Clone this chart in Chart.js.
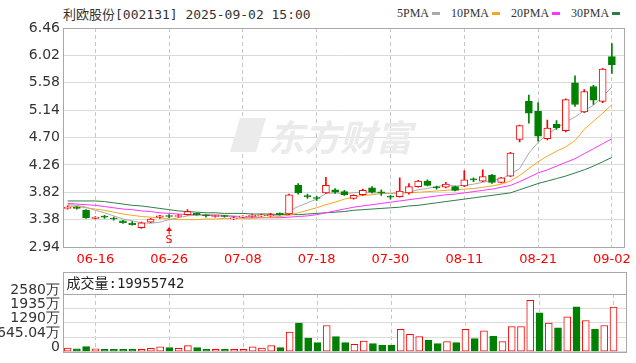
<!DOCTYPE html>
<html>
<head>
<meta charset="utf-8">
<script src="https://cdn.jsdelivr.net/npm/chart.js@4.4.0/dist/chart.umd.min.js"></script>
<style>
  body { margin: 0; background: #fff; width: 636px; height: 363px; overflow: hidden; position: relative; }
  canvas { position: absolute; left: 0; }
  #kline { top: 0; }
  #vol { top: 263px; }
  #title { position: absolute; left: 63px; top: 4px; font: 13px "DejaVu Sans Mono", "Noto Sans CJK SC", monospace; color: #333; white-space: nowrap; }
  #legend { position: absolute; left: 397px; top: 6px; font: 12px "Liberation Serif", serif; color: #333; display: flex; align-items: center; white-space: nowrap; }
  #legend span.sw { display: inline-block; width: 8px; height: 3px; margin: 0 11px 0 3px; }
</style>
</head>
<body>
<div id="title">利欧股份[002131] 2025-09-02 15:00</div>
<div id="legend"></div>
<canvas id="kline" width="636" height="270"></canvas>
<canvas id="vol" width="636" height="100"></canvas>
<script>
// 交易日
const dates = ['06-11','06-12','06-13','06-16','06-17','06-18','06-19','06-20','06-23','06-24',
  '06-25','06-26','06-27','06-30','07-01','07-02','07-03','07-04','07-07','07-08',
  '07-09','07-10','07-11','07-14','07-15','07-16','07-17','07-18','07-21','07-22',
  '07-23','07-24','07-25','07-28','07-29','07-30','07-31','08-01','08-04','08-05',
  '08-06','08-07','08-08','08-11','08-12','08-13','08-14','08-15','08-18','08-19',
  '08-20','08-21','08-22','08-25','08-26','08-27','08-28','08-29','09-01','09-02'];
const labelDays = ['06-16','06-26','07-08','07-18','07-30','08-11','08-21','09-02'];

// K线 开高低收
const opens = [3.56,3.58,3.53,3.40,3.43,3.40,3.36,3.32,3.25,3.34,
  3.42,3.44,3.43,3.46,3.48,3.45,3.43,3.44,3.39,3.42,
  3.43,3.44,3.44,3.48,3.47,3.93,3.76,3.73,3.81,3.86,
  3.83,3.72,3.78,3.89,3.82,3.75,3.75,3.81,3.91,4.00,
  3.90,3.90,3.91,3.92,4.03,4.00,4.09,3.98,4.08,4.67,
  5.28,5.12,4.68,4.91,4.81,5.58,5.11,5.52,5.28,6.00];
const highs = [3.60,3.59,3.54,3.43,3.45,3.42,3.37,3.35,3.34,3.40,
  3.45,3.46,3.46,3.54,3.49,3.46,3.45,3.45,3.43,3.44,
  3.47,3.47,3.48,3.49,3.79,3.96,3.79,3.76,4.06,3.88,
  3.85,3.78,3.87,3.91,3.86,3.77,4.05,3.96,4.01,4.02,
  3.92,3.98,3.92,4.17,4.05,4.18,4.11,4.06,4.46,4.90,
  5.38,5.26,4.98,4.97,5.32,5.69,5.47,5.54,5.81,6.21];
const lows = [3.55,3.55,3.40,3.39,3.40,3.37,3.32,3.29,3.24,3.33,
  3.40,3.41,3.42,3.45,3.45,3.42,3.42,3.42,3.38,3.41,
  3.42,3.43,3.43,3.45,3.46,3.79,3.72,3.69,3.80,3.80,
  3.77,3.71,3.77,3.81,3.77,3.71,3.74,3.79,3.90,3.92,
  3.87,3.89,3.84,3.91,3.99,3.99,3.96,3.97,4.07,4.63,
  4.93,4.64,4.66,4.83,4.79,5.20,5.10,5.23,5.26,5.73];
const closes = [3.58,3.56,3.41,3.42,3.42,3.39,3.33,3.30,3.33,3.39,
  3.44,3.43,3.44,3.51,3.46,3.44,3.44,3.43,3.41,3.43,
  3.45,3.45,3.46,3.46,3.78,3.81,3.75,3.72,3.93,3.82,
  3.78,3.77,3.85,3.82,3.81,3.74,3.84,3.91,4.00,3.93,
  3.89,3.95,3.85,4.02,4.02,4.07,3.98,4.05,4.45,4.89,
  5.09,4.72,4.85,4.86,5.31,5.23,5.44,5.30,5.80,5.87];

// 均线
const ma5 = [3.62,3.61,3.58,3.53,3.49,3.44,3.39,3.36,3.33,3.32,
  3.34,3.38,3.41,3.44,3.45,3.46,3.46,3.45,3.44,3.43,
  3.43,3.44,3.45,3.45,3.52,3.59,3.65,3.71,3.80,3.81,
  3.80,3.81,3.83,3.81,3.81,3.80,3.81,3.82,3.86,3.88,
  3.91,3.94,3.92,3.93,3.95,3.98,4.01,4.03,4.11,4.20,
  4.45,4.62,4.75,4.85,4.95,5.03,5.13,5.22,5.36,5.51];
const ma10 = [3.60,3.59,3.57,3.55,3.53,3.50,3.47,3.45,3.43,3.42,
  3.41,3.39,3.38,3.38,3.38,3.39,3.39,3.40,3.40,3.40,
  3.40,3.41,3.42,3.43,3.45,3.49,3.53,3.57,3.62,3.66,
  3.71,3.74,3.77,3.78,3.80,3.80,3.81,3.81,3.82,3.83,
  3.84,3.85,3.86,3.87,3.88,3.90,3.92,3.95,4.00,4.09,
  4.20,4.31,4.40,4.48,4.55,4.65,4.83,4.96,5.09,5.23];
const ma20 = [3.64,3.63,3.62,3.61,3.59,3.57,3.55,3.54,3.52,3.51,
  3.49,3.48,3.47,3.46,3.46,3.45,3.44,3.44,3.43,3.42,
  3.42,3.41,3.41,3.41,3.42,3.43,3.44,3.46,3.49,3.52,
  3.55,3.58,3.60,3.62,3.64,3.66,3.68,3.70,3.72,3.74,
  3.76,3.78,3.79,3.81,3.83,3.85,3.87,3.90,3.93,3.99,
  4.06,4.13,4.18,4.24,4.30,4.36,4.44,4.52,4.60,4.68];
const ma30 = [3.68,3.68,3.68,3.68,3.67,3.65,3.63,3.61,3.60,3.58,
  3.56,3.54,3.52,3.51,3.50,3.49,3.49,3.48,3.48,3.48,
  3.47,3.47,3.47,3.46,3.46,3.46,3.47,3.48,3.49,3.50,
  3.51,3.53,3.54,3.55,3.56,3.57,3.58,3.60,3.61,3.63,
  3.65,3.67,3.69,3.71,3.73,3.75,3.77,3.79,3.81,3.86,
  3.91,3.96,4.00,4.04,4.08,4.13,4.18,4.24,4.31,4.38];
const maNames = ['5PMA', '10PMA', '20PMA', '30PMA'];
const maColors = ['#aaaaaa', '#f5a623', '#ff33ff', '#2e7d46'];

// 成交量 (万), 1 = 涨
const volumes = [160,120,222,120,100,100,100,100,100,150,
  210,180,150,270,180,100,100,100,100,100,
  210,160,270,180,875,1275,610,400,1170,668,
  400,325,475,356,297,297,993,770,668,503,
  356,445,400,993,578,935,680,445,1125,1125,
  2300,1735,1277,1068,1557,2000,1393,1010,1170,1995.57];
const volUp = [1,0,0,1,0,0,0,0,1,1, 1,0,1,1,0,0,1,0,1,1,
  1,1,1,0,1,0,0,0,1,0, 0,1,1,0,0,0,1,1,1,0,
  0,1,0,1,0,1,0,1,1,1, 1,0,1,0,1,0,1,0,1,1];
const lastVolume = '19955742';

// 刻度
const priceTicks = [2.94, 3.38, 3.82, 4.26, 4.70, 5.14, 5.58, 6.02, 6.46];
const volTicks = [0, 645.04, 1290.08, 1935.12, 2580.16];
const volTickLabels = ['0', '645.04万', '1290万', '1935万', '2580万'];

const RED = '#ff0000', GREEN = '#008000';
const xTickIdx = labelDays.map(d => dates.indexOf(d));

// 图例
const legend = document.getElementById('legend');
maNames.forEach((n, k) => {
  legend.insertAdjacentHTML('beforeend', `<span>${n}</span><span class="sw" style="background:${maColors[k]}"></span>`);
});

// 外框
const framePlugin = {
  id: 'frame',
  afterDraw(chart) {
    const a = chart.chartArea, ctx = chart.ctx;
    ctx.save();
    ctx.strokeStyle = '#a8a8a8';
    ctx.lineWidth = 1;
    ctx.strokeRect(Math.round(a.left) + 0.5, Math.round(a.top) + 0.5, Math.round(a.right - a.left), Math.round(a.bottom - a.top));
    ctx.restore();
  }
};

// 水印
const watermarkPlugin = {
  id: 'watermark',
  beforeDatasetsDraw(chart) {
    const ctx = chart.ctx;
    ctx.save();
    ctx.fillStyle = '#ebebeb';
    ctx.font = 'italic bold 36px "Noto Sans CJK SC"';
    ctx.textBaseline = 'alphabetic';
    ctx.fillText('东方财富', 268, 151);
    ctx.beginPath();
    ctx.moveTo(240, 118); ctx.lineTo(266, 118); ctx.lineTo(256, 152); ctx.lineTo(230, 152);
    ctx.closePath();
    ctx.fill();
    ctx.restore();
  }
};

// S 标记
const signalPlugin = {
  id: 'signal',
  afterDatasetsDraw(chart) {
    const ctx = chart.ctx;
    const x = chart.scales.x.getPixelForValue(dates.indexOf('06-26'));
    ctx.save();
    ctx.fillStyle = RED;
    ctx.beginPath();
    ctx.moveTo(x, 227); ctx.lineTo(x + 3, 231); ctx.lineTo(x - 3, 231);
    ctx.closePath();
    ctx.fill();
    ctx.fillRect(x - 0.5, 231, 1, 3);
    ctx.font = '11px "DejaVu Sans"';
    ctx.textAlign = 'center';
    ctx.textBaseline = 'middle';
    ctx.fillText('S', x, 240);
    ctx.restore();
  }
};

const candleUp = closes.map((c, i) => c >= opens[i]);

new Chart(document.getElementById('kline'), {
  type: 'bar',
  data: {
    datasets: [
      {
        type: 'bar', order: 1, grouped: false,
        data: dates.map((d, i) => ({ x: i, y: [lows[i], highs[i]] })),
        backgroundColor: candleUp.map(u => u ? RED : GREEN),
        barThickness: 1, borderWidth: 0
      },
      {
        type: 'bar', order: 0, grouped: false,
        data: dates.map((d, i) => ({ x: i, y: [opens[i], closes[i]] })),
        backgroundColor: candleUp.map(u => u ? '#ffffff' : GREEN),
        borderColor: candleUp.map(u => u ? RED : GREEN),
        borderWidth: 1, borderSkipped: false, barThickness: 7, minBarLength: 1
      },
      ...[ma5, ma10, ma20, ma30].map((arr, k) => ({
        type: 'line', order: 2 + k,
        data: arr.map((v, i) => ({ x: i, y: v })),
        borderColor: maColors[k], borderWidth: 1, pointRadius: 0, tension: 0, fill: false
      }))
    ]
  },
  options: {
    responsive: false, animation: false, devicePixelRatio: 1,
    layout: { padding: { top: 28, right: 10, left: 0, bottom: 0 } },
    plugins: { legend: { display: false }, tooltip: { enabled: false } },
    scales: {
      x: {
        type: 'linear', min: -0.5, max: 60.35, offset: false,
        afterBuildTicks: s => { s.ticks = xTickIdx.map(v => ({ value: v })); },
        afterFit: s => { s.height = 23; },
        ticks: { callback: v => dates[v], color: RED, font: { family: 'DejaVu Sans', size: 13 }, padding: 5, maxRotation: 0, autoSkip: false },
        grid: { color: '#c8c8c8', drawTicks: false, offset: false },
        border: { display: false, dash: [4, 3] }
      },
      y: {
        min: 2.94, max: 6.46,
        afterBuildTicks: s => { s.ticks = priceTicks.map(v => ({ value: v })); },
        afterFit: s => { s.width = 63; },
        ticks: { callback: v => v.toFixed(2), color: '#333', font: { family: 'DejaVu Sans', size: 14 }, padding: 3, autoSkip: false },
        grid: { color: '#dadada', drawTicks: false },
        border: { display: false }
      }
    }
  },
  plugins: [watermarkPlugin, signalPlugin, framePlugin]
});

// 成交量头部
const volHeaderPlugin = {
  id: 'volHeader',
  afterDraw(chart) {
    const a = chart.chartArea, ctx = chart.ctx;
    const l = Math.round(a.left) + 0.5, r = Math.round(a.right) + 0.5;
    ctx.save();
    ctx.strokeStyle = '#a8a8a8';
    ctx.lineWidth = 1;
    ctx.strokeRect(l, 9.5, r - l, Math.round(a.bottom) - 9);
    ctx.beginPath();
    ctx.moveTo(l, Math.round(a.top) + 0.5); ctx.lineTo(r, Math.round(a.top) + 0.5);
    ctx.stroke();
    ctx.fillStyle = '#222';
    ctx.font = '14px "DejaVu Sans Mono", "Noto Sans CJK SC"';
    ctx.textBaseline = 'middle';
    ctx.fillText('成交量:' + lastVolume, l + 3, 21);
    ctx.restore();
  }
};

new Chart(document.getElementById('vol'), {
  type: 'bar',
  data: {
    datasets: [{
      grouped: false,
      data: volumes.map((v, i) => ({ x: i, y: v })),
      backgroundColor: volUp.map(u => u ? '#ffffff' : GREEN),
      borderColor: volUp.map(u => u ? RED : GREEN),
      borderWidth: 1, borderSkipped: false, barThickness: 7
    }]
  },
  options: {
    responsive: false, animation: false, devicePixelRatio: 1,
    layout: { padding: { top: 31, right: 10, left: 0, bottom: 0 } },
    plugins: { legend: { display: false }, tooltip: { enabled: false } },
    scales: {
      x: {
        type: 'linear', min: -0.5, max: 60.35, offset: false,
        afterBuildTicks: s => { s.ticks = xTickIdx.map(v => ({ value: v })); },
        afterFit: s => { s.height = 11; },
        ticks: { display: false },
        grid: { color: '#c8c8c8', drawTicks: false, offset: false },
        border: { display: false, dash: [4, 3] }
      },
      y: {
        min: 0, max: 2580.16,
        afterBuildTicks: s => { s.ticks = volTicks.map(v => ({ value: v })); },
        afterFit: s => { s.width = 63; },
        ticks: { callback: (v, i) => volTickLabels[i], color: '#333', font: { family: 'DejaVu Sans', size: 14 }, padding: 3, labelOffset: -4, autoSkip: false },
        grid: { color: '#dadada', drawTicks: false },
        border: { display: false }
      }
    }
  },
  plugins: [volHeaderPlugin]
});
</script>
</body>
</html>
